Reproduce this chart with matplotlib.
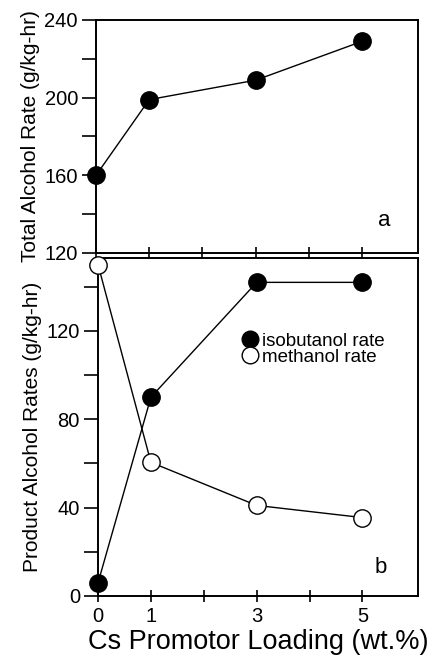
import numpy as np
import matplotlib.pyplot as plt
from matplotlib.lines import Line2D

plt.rcParams['font.family'] = ['Liberation Sans', 'DejaVu Sans']

# Cs loading (wt.%)
cs_loading = [0, 1, 3, 5]

# panel a: total alcohol rate (g/kg-hr)
total_rate = [160, 199, 209, 229]

# panel b: product alcohol rates (g/kg-hr)
isobutanol_rate = [6, 90, 142, 142]
methanol_rate = [150, 60.5, 41, 35.5]

x_tick_labels = ['0', '1', '', '3', '', '5']

fig = plt.figure(figsize=(4.3, 6.6), dpi=100)
ax1 = fig.add_axes([0.2233, 0.6167, 0.7487, 0.353])
ax2 = fig.add_axes([0.228, 0.097, 0.744, 0.512])

mk = dict(markersize=12.5, lw=1.0, color='black', clip_on=False, zorder=3)

# Panel a
ax1.plot(cs_loading, total_rate, marker='o', markerfacecolor='black', **mk)
ax1.set_xlim(0, 6.05)
ax1.set_ylim(120, 240)
ax1.set_yticks([120, 160, 200, 240])
ax1.set_yticks([140, 180, 220], minor=True)
ax1.set_xticks(range(6))
ax1.set_xticklabels([])
ax1.set_ylabel('Total Alcohol Rate (g/kg-hr)', fontsize=15, labelpad=3)
ax1.text(0.894, 0.14, 'a', transform=ax1.transAxes, fontsize=16,
         ha='center', va='center')

# Panel b
ax2.plot(cs_loading, isobutanol_rate, marker='o', markerfacecolor='black', **mk)
ax2.plot(cs_loading, methanol_rate, marker='o', markerfacecolor='white', **mk)
ax2.set_xlim(0, 6.05)
ax2.set_ylim(0, 153)
ax2.set_yticks([0, 40, 80, 120])
ax2.set_yticks([20, 60, 100, 140], minor=True)
ax2.set_xticks(range(6))
ax2.set_xticklabels(x_tick_labels)
ax2.set_ylabel('Product Alcohol Rates (g/kg-hr)', fontsize=15, labelpad=3)
ax2.set_xlabel('Cs Promotor Loading (wt.%)', fontsize=19.5, labelpad=2)
ax2.text(0.884, 0.083, 'b', transform=ax2.transAxes, fontsize=16,
         ha='center', va='center')

handles = [
    Line2D([], [], ls='none', marker='o', markersize=12, color='black',
           markerfacecolor='black', label='isobutanol rate'),
    Line2D([], [], ls='none', marker='o', markersize=12, color='black',
           markerfacecolor='white', label='methanol rate'),
]
ax2.legend(handles=handles, loc='upper left', bbox_to_anchor=(0.41, 0.818),
           frameon=False, fontsize=13.5, handlelength=0.8, handletextpad=0.25,
           labelspacing=-0.05, borderpad=0.2)

for ax in (ax1, ax2):
    for sp in ax.spines.values():
        sp.set_linewidth(1.4)
    ax.tick_params(axis='y', which='both', direction='out', length=10,
                   width=1.2, labelsize=14.5, pad=3)
    ax.tick_params(axis='x', which='major', direction='inout', length=8,
                   width=1.2, labelsize=14.5, pad=4)

fig.savefig('out.png', dpi=100)
